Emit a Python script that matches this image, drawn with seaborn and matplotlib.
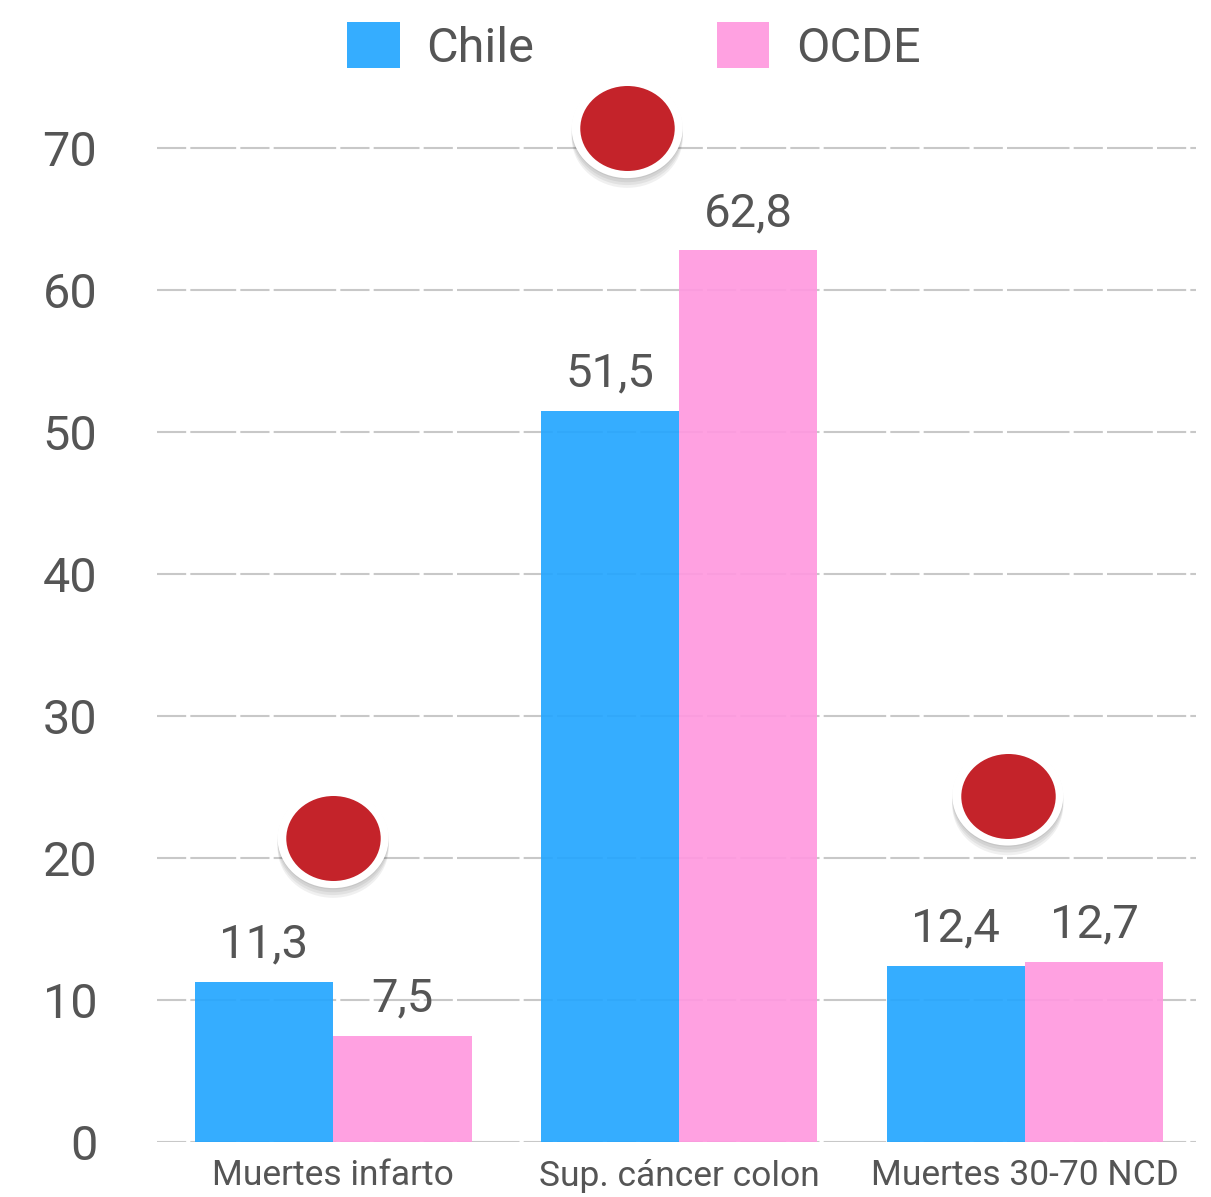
import matplotlib
matplotlib.use("Agg")
import matplotlib.pyplot as plt
import matplotlib.patheffects as pe
from matplotlib.path import Path
from matplotlib.transforms import Affine2D
import numpy as np
import pandas as pd
import seaborn as sns

# data
categories = ['Muertes infarto', 'Sup. cáncer colon', 'Muertes 30-70 NCD']
series = ['Chile', 'OCDE']
chile = [11.3, 51.5, 12.4]
ocde = [7.5, 62.8, 12.7]
yticks = [0, 10, 20, 30, 40, 50, 60, 70]

# red badges (category position, value) drawn over the chart
badge_x = [0.0, 0.85, 1.95]
badge_y = [21.4, 71.4, 24.4]

colors = ['#24A6FF', '#FF99DF']
text_color = '#555555'

df = pd.DataFrame({
    'categoria': categories * 2,
    'serie': [series[0]] * 3 + [series[1]] * 3,
    'valor': chile + ocde,
})

sns.set_theme(style='white')
plt.rcParams['font.family'] = ['Roboto', 'DejaVu Sans']

fig = plt.figure(figsize=(12.11, 11.97), dpi=100)
ax = fig.add_axes([157 / 1211, 55 / 1197, (1196 - 157) / 1211, (1142 - 119.6) / 1197])

sns.barplot(data=df, x='categoria', y='valor', hue='serie', palette=colors,
            saturation=1, alpha=0.92, width=0.8, linewidth=0, ax=ax, zorder=2)

# value labels
for cont in ax.containers:
    vals = [b.get_height() for b in cont]
    ax.bar_label(cont, labels=[f'{v:.1f}'.replace('.', ',') for v in vals],
                 padding=11, fontsize=34, color=text_color)

# axes formatting
ax.set_xlim(-0.509, 2.494)
ax.set_ylim(0, 72)
ax.set_yticks(yticks)
ax.set_yticklabels([str(t) for t in yticks])
ax.set_xlabel('')
ax.set_ylabel('')
for s in ax.spines.values():
    s.set_visible(False)
ax.tick_params(axis='y', length=0, pad=43, labelsize=35, labelcolor=text_color)
ax.tick_params(axis='x', length=0, pad=12, labelsize=25.5, labelcolor=text_color)
for t in yticks:
    ax.axhline(t, color='#c8c8c8', lw=1.5, zorder=1,
               linestyle=(0, (14, 2, 22, 2, 14, 2, 30, 2)))

# badges: elliptical markers with white ring and soft shadow
ell = Path.unit_circle().transformed(Affine2D().scale(1.0, 0.9))
shadow = [pe.SimplePatchShadow(offset=(0, -k), shadow_rgbFace='black', alpha=0.06)
          for k in (1, 3, 5, 7)]
ax.scatter(badge_x, badge_y, s=80 ** 2, marker=ell, color='white', zorder=5,
           clip_on=False, linewidths=0, path_effects=shadow + [pe.Normal()])
ax.scatter(badge_x, badge_y, s=68 ** 2, marker=ell, color='#C4232A', zorder=6,
           clip_on=False, linewidths=0)

# legend at top
handles, labels = ax.get_legend_handles_labels()
ax.get_legend().remove()
fig.legend(handles, labels, loc='center', bbox_to_anchor=(634 / 1211, 1 - 47 / 1197),
           ncol=2, frameon=False, fontsize=35, labelcolor=text_color,
           handlelength=1.08, handleheight=1.08, handletextpad=0.55, columnspacing=3.75)

plt.savefig('out.png', dpi=100)
